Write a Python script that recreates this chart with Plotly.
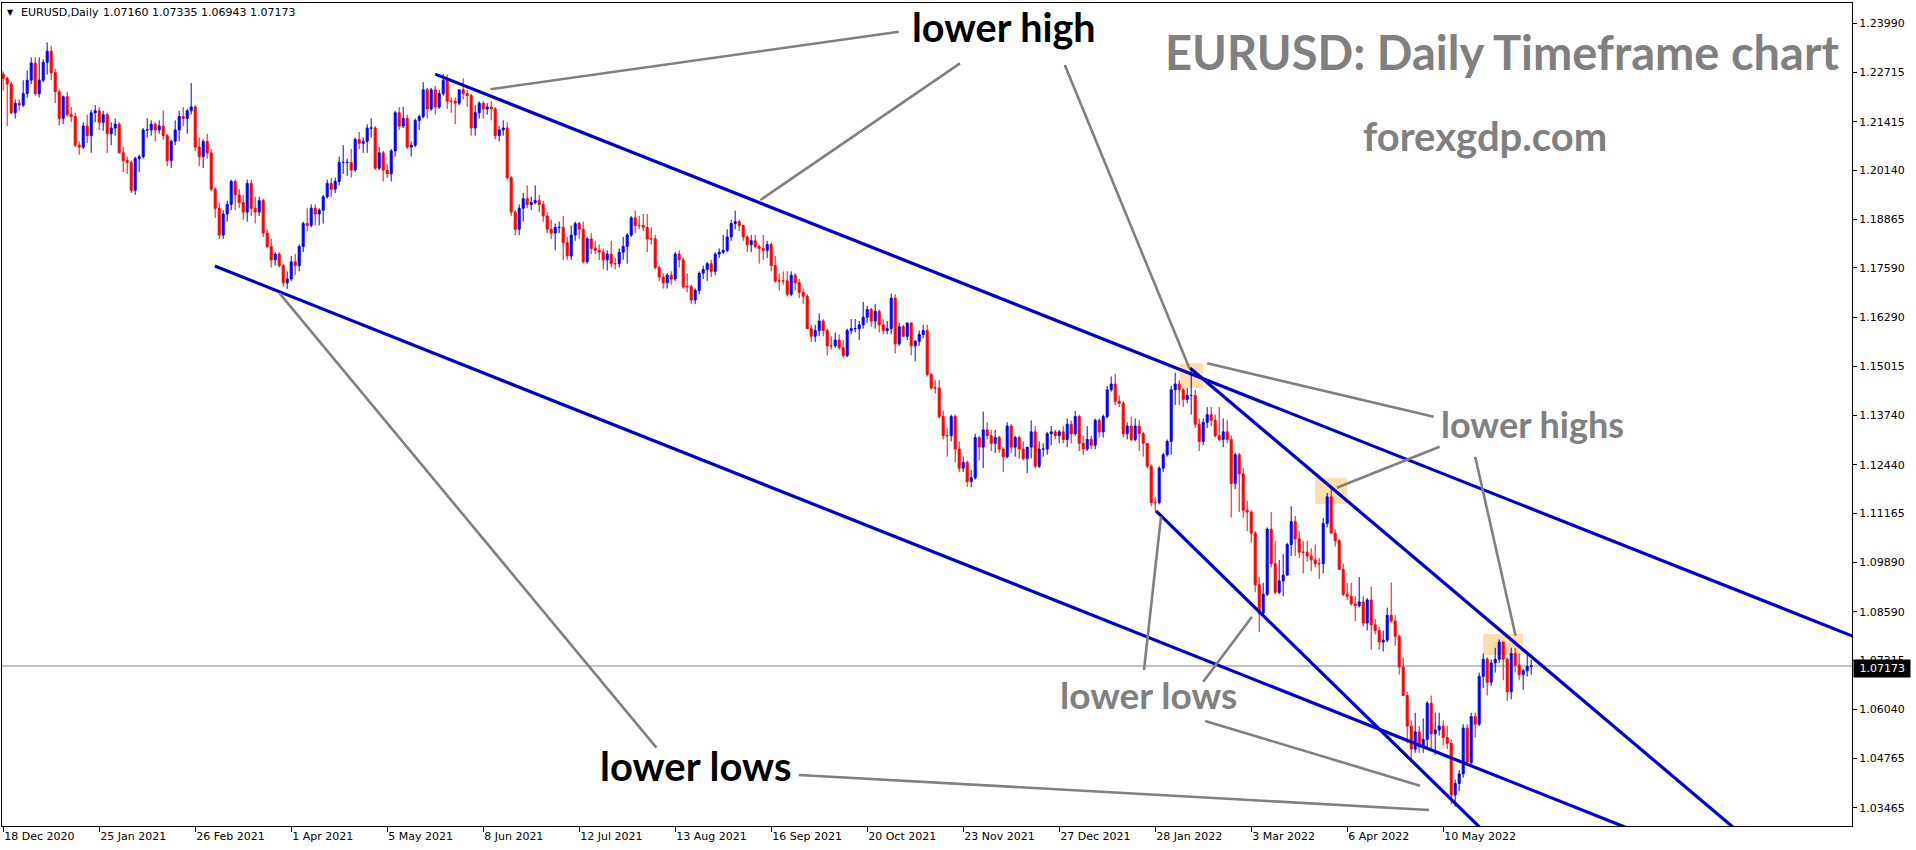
import plotly.graph_objects as go
import pandas as pd

# ---------------- data ----------------
tick_labels = ["18 Dec 2020", "25 Jan 2021", "26 Feb 2021", "1 Apr 2021", "5 May 2021",
               "8 Jun 2021", "12 Jul 2021", "13 Aug 2021", "16 Sep 2021", "20 Oct 2021",
               "23 Nov 2021", "27 Dec 2021", "28 Jan 2022", "3 Mar 2022", "6 Apr 2022",
               "10 May 2022"]
price_ticks = [1.23990, 1.22715, 1.21415, 1.20140, 1.18865, 1.17590, 1.16290, 1.15015,
               1.13740, 1.12440, 1.11165, 1.09890, 1.08590, 1.07315, 1.06040, 1.04765, 1.03465]

opens = [
 1.2266,1.2255,1.2240,1.2165,1.2190,1.2185,1.2215,1.2250,1.2295,1.2215,
 1.2250,1.2297,1.2326,1.2270,1.2220,1.2150,1.2207,1.2160,1.2155,1.2080,
 1.2075,1.2130,1.2105,1.2165,1.2170,1.2140,1.2160,1.2110,1.2125,1.2135,
 1.2060,1.2040,1.2035,1.1962,1.2045,1.2050,1.2120,1.2120,1.2135,1.2120,
 1.2130,1.2105,1.2040,1.2090,1.2120,1.2155,1.2150,1.2170,1.2180,1.2075,
 1.2050,1.2090,1.2060,1.1965,1.1915,1.1845,1.1900,1.1925,1.1985,1.1950,
 1.1930,1.1905,1.1980,1.1915,1.1905,1.1935,1.1850,1.1815,1.1780,1.1795,
 1.1765,1.1720,1.1730,1.1775,1.1765,1.1815,1.1875,1.1870,1.1915,1.1900,
 1.1910,1.1945,1.1980,1.1965,1.1985,1.2035,1.2035,1.2035,1.2015,1.2095,
 1.2085,1.2090,1.2125,1.2125,1.2020,1.2060,1.2015,1.2005,1.2065,1.2165,
 1.2130,1.2150,1.2075,1.2080,1.2145,1.2155,1.2225,1.2175,1.2225,1.2180,
 1.2215,1.2250,1.2195,1.2195,1.2190,1.2225,1.2215,1.2210,1.2125,1.2165,
 1.2190,1.2175,1.2180,1.2175,1.2105,1.2120,1.2125,1.1995,1.1905,1.1860,
 1.1915,1.1940,1.1925,1.1930,1.1935,1.1925,1.1895,1.1860,1.1850,1.1865,
 1.1865,1.1825,1.1790,1.1845,1.1875,1.1860,1.1775,1.1835,1.1810,1.1805,
 1.1800,1.1780,1.1795,1.1770,1.1770,1.1800,1.1815,1.1845,1.1890,1.1870,
 1.1870,1.1865,1.1835,1.1835,1.1760,1.1735,1.1720,1.1740,1.1730,1.1795,
 1.1780,1.1710,1.1710,1.1675,1.1700,1.1745,1.1755,1.1770,1.1750,1.1795,
 1.1800,1.1805,1.1840,1.1875,1.1880,1.1870,1.1840,1.1820,1.1830,1.1815,
 1.1810,1.1805,1.1820,1.1765,1.1725,1.1725,1.1725,1.1690,1.1740,1.1720,
 1.1695,1.1685,1.1600,1.1580,1.1595,1.1620,1.1595,1.1555,1.1555,1.1570,
 1.1550,1.1530,1.1595,1.1600,1.1600,1.1610,1.1630,1.1650,1.1620,1.1645,
 1.1610,1.1595,1.1600,1.1680,1.1560,1.1605,1.1580,1.1615,1.1555,1.1567,
 1.1585,1.1595,1.1480,1.1445,1.1445,1.1370,1.1320,1.1320,1.1370,1.1285,
 1.1235,1.1250,1.1200,1.1210,1.1315,1.1290,1.1335,1.1320,1.1300,1.1315,
 1.1285,1.1265,1.1345,1.1290,1.1315,1.1285,1.1260,1.1290,1.1330,1.1240,
 1.1285,1.1285,1.1325,1.1330,1.1320,1.1330,1.1310,1.1350,1.1325,1.1370,
 1.1300,1.1285,1.1310,1.1295,1.1360,1.1330,1.1370,1.1440,1.1455,1.1410,
 1.1405,1.1325,1.1345,1.1310,1.1345,1.1325,1.1300,1.1240,1.1145,1.1145,
 1.1235,1.1270,1.1305,1.1440,1.1455,1.1440,1.1415,1.1425,1.1425,1.1350,
 1.1305,1.1355,1.1375,1.1360,1.1320,1.1310,1.1330,1.1310,1.1195,1.1270,
 1.1220,1.1125,1.1120,1.1065,1.0930,1.0855,1.0905,1.1075,1.0985,1.0910,
 1.0940,1.0955,1.1035,1.1095,1.1050,1.1015,1.1015,1.1005,1.0995,1.0985,
 1.0985,1.1090,1.1160,1.1065,1.1045,1.0970,1.0905,1.0900,1.0880,1.0875,
 1.0885,1.0830,1.0890,1.0825,1.0810,1.0780,1.0785,1.0850,1.0835,1.0795,
 1.0715,1.0640,1.0560,1.0500,1.0545,1.0505,1.0525,1.0620,1.0540,1.0550,
 1.0560,1.0530,1.0515,1.0380,1.0410,1.0435,1.0555,1.0465,1.0585,1.0565,
 1.0690,1.0735,1.0675,1.0725,1.0735,1.0780,1.0735,1.0650,1.0750,1.0720,
 1.0695,1.0705,1.07160]

highs = [
 1.2273,1.2259,1.2245,1.2200,1.2200,1.2250,1.2275,1.2310,1.2310,1.2310,
 1.2305,1.2349,1.2340,1.2280,1.2226,1.2210,1.2220,1.2180,1.2165,1.2090,
 1.2140,1.2160,1.2172,1.2185,1.2180,1.2170,1.2165,1.2140,1.2150,1.2140,
 1.2075,1.2050,1.2040,1.2050,1.2055,1.2125,1.2150,1.2145,1.2140,1.2145,
 1.2170,1.2110,1.2095,1.2145,1.2170,1.2180,1.2175,1.2243,1.2185,1.2100,
 1.2095,1.2110,1.2070,1.1970,1.1930,1.1910,1.1935,1.1990,1.1990,1.1965,
 1.1950,1.1990,1.1990,1.1945,1.1945,1.1940,1.1860,1.1835,1.1800,1.1800,
 1.1770,1.1750,1.1790,1.1795,1.1820,1.1880,1.1915,1.1925,1.1925,1.1915,
 1.1950,1.1990,1.1995,1.1995,1.2050,1.2080,1.2045,1.2070,1.2100,1.2115,
 1.2100,1.2135,1.2150,1.2130,1.2075,1.2065,1.2030,1.2070,1.2170,1.2180,
 1.2180,1.2160,1.2090,1.2150,1.2160,1.2245,1.2230,1.2230,1.2235,1.2225,
 1.2266,1.2265,1.2205,1.2205,1.2225,1.2255,1.2225,1.2215,1.2185,1.2195,
 1.2195,1.2190,1.2195,1.2180,1.2130,1.2145,1.2140,1.2000,1.1910,1.1925,
 1.1955,1.1975,1.1945,1.1975,1.1950,1.1935,1.1905,1.1885,1.1875,1.1880,
 1.1895,1.1840,1.1870,1.1880,1.1880,1.1880,1.1840,1.1850,1.1830,1.1820,
 1.1810,1.1805,1.1830,1.1785,1.1810,1.1840,1.1850,1.1895,1.1909,1.1895,
 1.1900,1.1900,1.1865,1.1845,1.1765,1.1745,1.1745,1.1750,1.1800,1.1805,
 1.1785,1.1745,1.1715,1.1705,1.1750,1.1765,1.1775,1.1780,1.1800,1.1810,
 1.1845,1.1860,1.1885,1.1909,1.1885,1.1870,1.1845,1.1845,1.1845,1.1820,
 1.1845,1.1830,1.1825,1.1790,1.1745,1.1750,1.1750,1.1750,1.1745,1.1730,
 1.1705,1.1690,1.1610,1.1610,1.1640,1.1625,1.1600,1.1580,1.1590,1.1585,
 1.1570,1.1600,1.1625,1.1625,1.1620,1.1670,1.1660,1.1655,1.1665,1.1650,
 1.1625,1.1620,1.1692,1.1690,1.1615,1.1610,1.1615,1.1615,1.1570,1.1595,
 1.1610,1.1610,1.1485,1.1465,1.1465,1.1385,1.1340,1.1375,1.1375,1.1305,
 1.1265,1.1255,1.1230,1.1325,1.1320,1.1383,1.1355,1.1335,1.1335,1.1320,
 1.1290,1.1355,1.1350,1.1320,1.1320,1.1305,1.1285,1.1360,1.1345,1.1305,
 1.1300,1.1330,1.1345,1.1335,1.1335,1.1345,1.1365,1.1360,1.1385,1.1375,
 1.1320,1.1345,1.1320,1.1365,1.1365,1.1375,1.1450,1.1475,1.1482,1.1425,
 1.1410,1.1355,1.1370,1.1365,1.1360,1.1330,1.1300,1.1245,1.1160,1.1240,
 1.1275,1.1310,1.1450,1.1485,1.1465,1.1445,1.1445,1.1495,1.1440,1.1365,
 1.1365,1.1395,1.1395,1.1375,1.1395,1.1365,1.1360,1.1320,1.1275,1.1275,
 1.1235,1.1150,1.1125,1.1070,1.0950,1.0935,1.1080,1.1120,1.1045,1.0995,
 1.1010,1.1040,1.1135,1.1110,1.1070,1.1045,1.1045,1.1025,1.1035,1.1000,
 1.1105,1.1170,1.1185,1.1075,1.1050,1.0985,1.0935,1.0935,1.0900,1.0950,
 1.0900,1.0895,1.0925,1.0840,1.0820,1.0810,1.0870,1.0936,1.0850,1.0800,
 1.0740,1.0650,1.0575,1.0595,1.0560,1.0580,1.0625,1.0640,1.0595,1.0595,
 1.0575,1.0560,1.0525,1.0420,1.0445,1.0565,1.0565,1.0595,1.0595,1.0700,
 1.0750,1.0740,1.0735,1.0765,1.0787,1.0780,1.0740,1.0765,1.0765,1.0750,
 1.0710,1.0750,1.07335]

lows = [
 1.2223,1.2130,1.2162,1.2150,1.2170,1.2180,1.2205,1.2240,1.2210,1.2205,
 1.2245,1.2265,1.2250,1.2190,1.2132,1.2135,1.2155,1.2140,1.2075,1.2055,
 1.2070,1.2085,1.2060,1.2140,1.2120,1.2118,1.2060,1.2080,1.2105,1.2060,
 1.2010,1.2005,1.1955,1.1950,1.2010,1.2045,1.2100,1.2105,1.2090,1.2110,
 1.2095,1.2025,1.2020,1.2080,1.2090,1.2130,1.2110,1.2160,1.2065,1.2025,
 1.2020,1.2045,1.1960,1.1890,1.1835,1.1835,1.1880,1.1910,1.1910,1.1915,
 1.1885,1.1880,1.1895,1.1875,1.1895,1.1840,1.1810,1.1760,1.1765,1.1760,
 1.1710,1.1704,1.1725,1.1740,1.1750,1.1800,1.1855,1.1865,1.1870,1.1870,
 1.1875,1.1940,1.1945,1.1955,1.1975,1.2005,1.2000,1.1995,1.2010,1.2070,
 1.2060,1.2060,1.2100,1.2015,1.2015,1.1985,1.1995,1.1985,1.2050,1.2120,
 1.2125,1.2070,1.2050,1.2075,1.2120,1.2150,1.2150,1.2170,1.2160,1.2175,
 1.2210,1.2175,1.2165,1.2135,1.2185,1.2200,1.2180,1.2105,1.2105,1.2150,
 1.2150,1.2160,1.2145,1.2095,1.2090,1.2105,1.1990,1.1895,1.1845,1.1845,
 1.1880,1.1915,1.1910,1.1925,1.1905,1.1880,1.1850,1.1835,1.1805,1.1850,
 1.1780,1.1780,1.1780,1.1830,1.1835,1.1770,1.1770,1.1795,1.1795,1.1780,
 1.1755,1.1752,1.1760,1.1755,1.1760,1.1780,1.1770,1.1840,1.1850,1.1860,
 1.1855,1.1800,1.1820,1.1755,1.1725,1.1705,1.1705,1.1715,1.1725,1.1760,
 1.1705,1.1695,1.1665,1.1664,1.1690,1.1730,1.1725,1.1735,1.1740,1.1785,
 1.1795,1.1800,1.1830,1.1860,1.1855,1.1830,1.1800,1.1800,1.1810,1.1770,
 1.1780,1.1785,1.1750,1.1720,1.1700,1.1715,1.1685,1.1685,1.1700,1.1680,
 1.1665,1.1600,1.1565,1.1565,1.1580,1.1580,1.1530,1.1545,1.1550,1.1545,
 1.1524,1.1525,1.1585,1.1590,1.1570,1.1600,1.1615,1.1605,1.1600,1.1590,
 1.1585,1.1585,1.1585,1.1535,1.1555,1.1580,1.1570,1.1530,1.1515,1.1555,
 1.1575,1.1475,1.1440,1.1430,1.1365,1.1310,1.1265,1.1305,1.1250,1.1225,
 1.1225,1.1186,1.1185,1.1205,1.1255,1.1235,1.1310,1.1280,1.1275,1.1275,
 1.1225,1.1260,1.1275,1.1265,1.1260,1.1255,1.1222,1.1260,1.1235,1.1235,
 1.1265,1.1270,1.1295,1.1310,1.1300,1.1300,1.1290,1.1300,1.1320,1.1280,
 1.1270,1.1280,1.1285,1.1285,1.1315,1.1315,1.1365,1.1435,1.1400,1.1395,
 1.1315,1.1310,1.1305,1.1305,1.1280,1.1265,1.1235,1.1135,1.1121,1.1140,
 1.1225,1.1265,1.1270,1.1400,1.1400,1.1395,1.1405,1.1375,1.1340,1.1280,
 1.1295,1.1340,1.1345,1.1315,1.1305,1.1290,1.1300,1.1106,1.1180,1.1120,
 1.1105,1.1070,1.1040,1.0910,1.0806,1.0850,1.0900,1.0975,1.0905,1.0905,
 1.0900,1.0955,1.1005,1.1005,1.1000,1.0960,1.0990,1.0965,1.0975,1.0945,
 1.0960,1.1080,1.1065,1.1030,1.0970,1.0900,1.0890,1.0875,1.0835,1.0870,
 1.0820,1.0810,1.0760,1.0800,1.0760,1.0755,1.0780,1.0830,1.0770,1.0695,
 1.0640,1.0515,1.0471,1.0490,1.0490,1.0490,1.0505,1.0495,1.0485,1.0535,
 1.0510,1.0500,1.0355,1.0349,1.0390,1.0425,1.0460,1.0460,1.0530,1.0560,
 1.0660,1.0640,1.0665,1.0700,1.0725,1.0680,1.0625,1.0630,1.0700,1.0680,
 1.0655,1.0690,1.06943]

closes = [
 1.2255,1.2240,1.2165,1.2190,1.2185,1.2215,1.2250,1.2295,1.2215,1.2250,
 1.2297,1.2326,1.2270,1.2220,1.2150,1.2207,1.2160,1.2155,1.2080,1.2075,
 1.2130,1.2105,1.2165,1.2170,1.2140,1.2160,1.2110,1.2125,1.2135,1.2060,
 1.2040,1.2035,1.1962,1.2045,1.2050,1.2120,1.2120,1.2135,1.2120,1.2130,
 1.2105,1.2040,1.2090,1.2120,1.2155,1.2150,1.2170,1.2180,1.2075,1.2050,
 1.2090,1.2060,1.1965,1.1915,1.1845,1.1900,1.1925,1.1985,1.1950,1.1930,
 1.1905,1.1980,1.1915,1.1905,1.1935,1.1850,1.1815,1.1780,1.1795,1.1765,
 1.1720,1.1730,1.1775,1.1765,1.1815,1.1875,1.1870,1.1915,1.1900,1.1910,
 1.1945,1.1980,1.1965,1.1985,1.2035,1.2035,1.2035,1.2015,1.2095,1.2085,
 1.2090,1.2125,1.2125,1.2020,1.2060,1.2015,1.2005,1.2065,1.2165,1.2130,
 1.2150,1.2075,1.2080,1.2145,1.2155,1.2225,1.2175,1.2225,1.2180,1.2215,
 1.2250,1.2195,1.2195,1.2190,1.2225,1.2215,1.2210,1.2125,1.2165,1.2190,
 1.2175,1.2180,1.2175,1.2105,1.2120,1.2125,1.1995,1.1905,1.1860,1.1915,
 1.1940,1.1925,1.1930,1.1935,1.1925,1.1895,1.1860,1.1850,1.1865,1.1865,
 1.1825,1.1790,1.1845,1.1875,1.1860,1.1775,1.1835,1.1810,1.1805,1.1800,
 1.1780,1.1795,1.1770,1.1770,1.1800,1.1815,1.1845,1.1890,1.1870,1.1870,
 1.1865,1.1835,1.1835,1.1760,1.1735,1.1720,1.1740,1.1730,1.1795,1.1780,
 1.1710,1.1710,1.1675,1.1700,1.1745,1.1755,1.1770,1.1750,1.1795,1.1800,
 1.1805,1.1840,1.1875,1.1880,1.1870,1.1840,1.1820,1.1830,1.1815,1.1810,
 1.1805,1.1820,1.1765,1.1725,1.1725,1.1725,1.1690,1.1740,1.1720,1.1695,
 1.1685,1.1600,1.1580,1.1595,1.1620,1.1595,1.1555,1.1555,1.1570,1.1550,
 1.1530,1.1595,1.1600,1.1600,1.1610,1.1630,1.1650,1.1620,1.1645,1.1610,
 1.1595,1.1600,1.1680,1.1560,1.1605,1.1580,1.1615,1.1555,1.1567,1.1585,
 1.1595,1.1480,1.1445,1.1445,1.1370,1.1320,1.1320,1.1370,1.1285,1.1235,
 1.1250,1.1200,1.1210,1.1315,1.1290,1.1335,1.1320,1.1300,1.1315,1.1285,
 1.1265,1.1345,1.1290,1.1315,1.1285,1.1260,1.1290,1.1330,1.1240,1.1285,
 1.1285,1.1325,1.1330,1.1320,1.1330,1.1310,1.1350,1.1325,1.1370,1.1300,
 1.1285,1.1310,1.1295,1.1360,1.1330,1.1370,1.1440,1.1455,1.1410,1.1405,
 1.1325,1.1345,1.1310,1.1345,1.1325,1.1300,1.1240,1.1145,1.1145,1.1235,
 1.1270,1.1305,1.1440,1.1455,1.1440,1.1415,1.1425,1.1425,1.1350,1.1305,
 1.1355,1.1375,1.1360,1.1320,1.1310,1.1330,1.1310,1.1195,1.1270,1.1220,
 1.1125,1.1120,1.1065,1.0930,1.0855,1.0905,1.1075,1.0985,1.0910,1.0940,
 1.0955,1.1035,1.1095,1.1050,1.1015,1.1015,1.1005,1.0995,1.0985,1.0985,
 1.1090,1.1160,1.1065,1.1045,1.0970,1.0905,1.0900,1.0880,1.0875,1.0885,
 1.0830,1.0890,1.0825,1.0810,1.0780,1.0785,1.0850,1.0835,1.0795,1.0715,
 1.0640,1.0560,1.0500,1.0545,1.0505,1.0525,1.0620,1.0540,1.0550,1.0560,
 1.0530,1.0515,1.0380,1.0410,1.0435,1.0555,1.0465,1.0585,1.0565,1.0690,
 1.0735,1.0675,1.0725,1.0735,1.0780,1.0735,1.0650,1.0750,1.0720,1.0695,
 1.0705,1.0716,1.07173]

last_price = 1.07173

# trend lines drawn on the chart: [bars], [prices]
channel_upper = [[108.0, 470.0], [1.22660, 1.07637]]
channel_lower = [[52.9, 420.0], [1.17639, 1.02353]]
steep_upper = [[296.7, 445.0], [1.14970, 1.01846]]
steep_lower = [[288.2, 380.0], [1.11229, 1.01842]]

# grey pointer lines: (bar0, price0, bar1, price1)
pointers = [
    (121.8, 1.22263, 223.9, 1.23770),
    (189.3, 1.19366, 239.2, 1.22943),
    (265.4, 1.22899, 296.55, 1.14963),
    (69.1, 1.16925, 163.3, 1.05035),
    (198.9, 1.04321, 356.45, 1.03405),
    (285.2, 1.07068, 289.45, 1.11079),
    (300.0, 1.06762, 312.2, 1.08463),
    (300.5, 1.05734, 354.2, 1.04041),
    (301.0, 1.15093, 357.6, 1.13696),
    (333.4, 1.11838, 359.1, 1.12911),
    (368.0, 1.12649, 378.1, 1.07966),
]

# highlighted zones: (bar0, bar1, price0, price1)
zones = [
    (294.1, 300.0, 1.14439, 1.15093),
    (328.0, 336.0, 1.11412, 1.12100),
    (370.0, 379.9, 1.07460, 1.08010),
]

# ---------------- build ----------------
dates = pd.bdate_range("2020-12-18", "2022-06-09")
dates = dates.drop(pd.to_datetime(["2020-12-25", "2021-01-01"]))
tick_bars = [int(dates.get_loc(pd.to_datetime(t, format="%d %b %Y"))) for t in tick_labels]
bars = list(range(len(closes)))

AX_FONT = dict(family="DejaVu Sans", size=11, color="black")
BLUE_LINE = "#0000CD"
GREY = "#808080"

fig = go.Figure()

fig.add_trace(go.Candlestick(
    x=bars, open=opens, high=highs, low=lows, close=closes,
    increasing=dict(line=dict(color="#0000FF", width=1), fillcolor="#0000FF"),
    decreasing=dict(line=dict(color="#FF0000", width=1), fillcolor="#FF0000"),
    whiskerwidth=0, hoverinfo="skip", showlegend=False,
))

for ln in (channel_upper, channel_lower, steep_upper, steep_lower):
    fig.add_trace(go.Scatter(x=ln[0], y=ln[1], mode="lines",
                             line=dict(color=BLUE_LINE, width=3.2),
                             hoverinfo="skip", showlegend=False))

for b0, p0, b1, p1 in pointers:
    fig.add_trace(go.Scatter(x=[b0, b1], y=[p0, p1], mode="lines",
                             line=dict(color=GREY, width=2.6),
                             hoverinfo="skip", showlegend=False))

shapes = []
for b0, b1, p0, p1 in zones:
    shapes.append(dict(type="rect", xref="x", yref="y", x0=b0, x1=b1, y0=p0, y1=p1,
                       fillcolor="#FFDEAD", line=dict(width=0), layer="below"))
shapes.append(dict(type="line", xref="paper", yref="y", x0=0, x1=1,
                   y0=last_price, y1=last_price,
                   line=dict(color="#778899", width=1), layer="below"))

LATO = "Lato, Open Sans, sans-serif"
annotations = [
    dict(x=250.1, y=1.23909, text="<b>lower high</b>", font=dict(family=LATO, size=39.5, color="black")),
    dict(x=374.6, y=1.23244, text="<b>EURUSD: Daily Timeframe chart</b>", font=dict(family=LATO, size=47, color=GREY)),
    dict(x=370.45, y=1.21036, text="<b>forexgdp.com</b>", font=dict(family=LATO, size=40, color=GREY)),
    dict(x=382.35, y=1.13505, text="<b>lower highs</b>", font=dict(family=LATO, size=36, color=GREY)),
    dict(x=286.4, y=1.06440, text="<b>lower lows</b>", font=dict(family=LATO, size=37, color=GREY)),
    dict(x=173.1, y=1.04551, text="<b>lower lows</b>", font=dict(family=LATO, size=40, color="black")),
]
for a in annotations:
    a.update(xref="x", yref="y", showarrow=False, xanchor="center", yanchor="middle")

# header
annotations += [
    dict(xref="paper", yref="paper", x=0, y=1, xanchor="center", yanchor="middle",
         xshift=8, yshift=-9.7, text="\u25BC", showarrow=False,
         font=dict(family="DejaVu Sans", size=8, color="black")),
    dict(xref="paper", yref="paper", x=0, y=1, xanchor="left", yanchor="middle",
         xshift=18.2, yshift=-9.7, text="EURUSD,Daily", showarrow=False, borderpad=0,
         font=AX_FONT),
    dict(xref="paper", yref="paper", x=0, y=1, xanchor="left", yanchor="middle",
         xshift=100.2, yshift=-9.7, text="%.5f %.5f %.5f %.5f" % (opens[-1], highs[-1], lows[-1], closes[-1]),
         showarrow=False, borderpad=0, font=AX_FONT),
    # current price tag
    dict(xref="paper", yref="y", x=1, y=last_price, xanchor="left", yanchor="middle",
         xshift=1, yshift=-3, text="\u00a0%.5f\u00a0" % last_price, showarrow=False,
         bgcolor="black", borderpad=2, font=dict(family="DejaVu Sans", size=11, color="white")),
]

fig.update_layout(
    width=1916, height=850,
    margin=dict(l=2, r=64, t=3, b=24),
    paper_bgcolor="white", plot_bgcolor="white",
    showlegend=False,
    shapes=shapes, annotations=annotations,
    boxgap=0.5, boxgroupgap=0,
    xaxis=dict(
        range=[-0.3, 462.2], rangeslider=dict(visible=False),
        tickmode="array", tickvals=tick_bars, ticktext=tick_labels,
        ticks="outside", ticklen=5, tickcolor="black", tickwidth=1,
        ticklabelposition="outside right",
        showgrid=False, zeroline=False,
        showline=True, linecolor="black", linewidth=1, mirror=True,
        tickfont=AX_FONT, fixedrange=True,
    ),
    yaxis=dict(
        range=[1.02986, 1.24521], side="right",
        tickmode="array", tickvals=price_ticks, ticktext=["%.5f" % v for v in price_ticks],
        ticks="outside", ticklen=4, tickcolor="black", tickwidth=1,
        showgrid=False, zeroline=False,
        showline=True, linecolor="black", linewidth=1, mirror=True,
        tickfont=AX_FONT, fixedrange=True,
    ),
)

fig.write_html(
    "out.html",
    config={"displayModeBar": False},
    post_script="document.documentElement.style.margin='0';document.body.style.margin='0';"
                "document.body.style.overflow='hidden';document.documentElement.style.overflow='hidden';",
)
